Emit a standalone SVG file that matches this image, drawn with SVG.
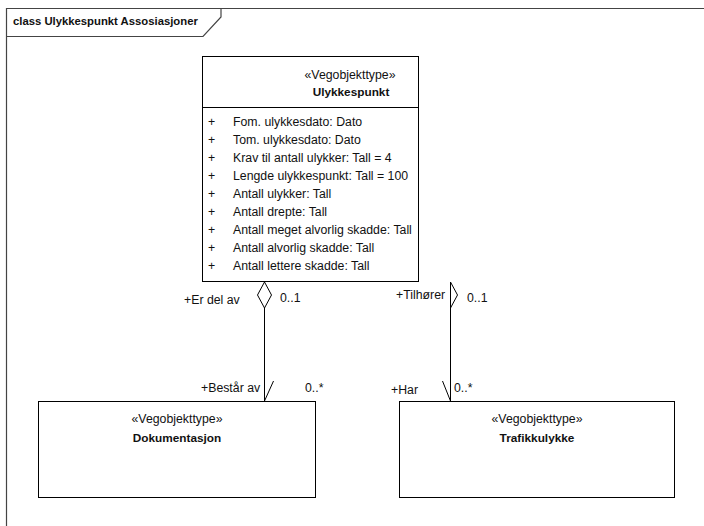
<svg xmlns="http://www.w3.org/2000/svg" width="704" height="526" viewBox="0 0 704 526">
<style>
text{font-family:"Liberation Sans",Arial,sans-serif;font-size:12.3px;fill:#111}
.b{font-weight:bold;font-size:11.8px}
.t{font-weight:bold;font-size:11.3px}
.c{text-anchor:middle}
.box{fill:#fff;stroke:#000;stroke-width:1}
.ln{fill:none;stroke:#000;stroke-width:1}
</style>
<rect width="704" height="526" fill="#fff"/>
<g id="frame">
<path d="M6.5,540 V8.5 H710" fill="none" stroke="#444" stroke-width="1.2"/>
<path d="M6.5,36.5 H203 L221,17 V8.5" fill="none" stroke="#444" stroke-width="1.2"/>
<text x="13" y="25" class="t">class Ulykkespunkt Assosiasjoner</text>
</g>
<g id="Ulykkespunkt">
<rect x="202.5" y="56.5" width="216" height="225" class="box"/>
<line x1="202.5" y1="107.5" x2="418.5" y2="107.5" class="ln"/>
<text x="350" y="79" class="c">«Vegobjekttype»</text>
<text x="351" y="96" class="c b">Ulykkespunkt</text>
<g>
<text x="208" y="125.5">+</text><text x="233" y="125.5">Fom. ulykkesdato: Dato</text>
<text x="208" y="143.5">+</text><text x="233" y="143.5">Tom. ulykkesdato: Dato</text>
<text x="208" y="161.5">+</text><text x="233" y="161.5">Krav til antall ulykker: Tall = 4</text>
<text x="208" y="179.5">+</text><text x="233" y="179.5">Lengde ulykkespunkt: Tall = 100</text>
<text x="208" y="197.5">+</text><text x="233" y="197.5">Antall ulykker: Tall</text>
<text x="208" y="215.5">+</text><text x="233" y="215.5">Antall drepte: Tall</text>
<text x="208" y="233.5">+</text><text x="233" y="233.5">Antall meget alvorlig skadde: Tall</text>
<text x="208" y="251.5">+</text><text x="233" y="251.5">Antall alvorlig skadde: Tall</text>
<text x="208" y="269.5">+</text><text x="233" y="269.5">Antall lettere skadde: Tall</text>
</g>
</g>
<g id="Dokumentasjon">
<rect x="38.5" y="401.5" width="277" height="96" class="box"/>
<text x="177" y="423" class="c">«Vegobjekttype»</text>
<text x="177" y="442" class="c b">Dokumentasjon</text>
</g>
<g id="Trafikkulykke">
<rect x="399.5" y="401.5" width="275" height="96" class="box"/>
<text x="537" y="423" class="c">«Vegobjekttype»</text>
<text x="537" y="442" class="c b">Trafikkulykke</text>
</g>
<g id="connectors">
<polygon points="264.5,282 271.5,295 264.5,308 257.5,295" fill="#fff" stroke="#000" stroke-width="1"/>
<line x1="264.5" y1="308" x2="264.5" y2="401" class="ln"/>
<line x1="273.5" y1="381" x2="264.5" y2="401" class="ln"/>
<polyline points="450.5,282 457.5,295 450.5,308" class="ln"/>
<line x1="450.5" y1="282" x2="450.5" y2="401" class="ln"/>
<line x1="442.5" y1="381" x2="450.5" y2="401" class="ln"/>
<text x="184" y="304">+Er del av</text>
<text x="280" y="302">0..1</text>
<text x="396" y="299">+Tilhører</text>
<text x="467" y="302">0..1</text>
<text x="201" y="392">+Består av</text>
<text x="305" y="392">0..*</text>
<text x="391" y="394">+Har</text>
<text x="454" y="392">0..*</text>
</g>
</svg>
